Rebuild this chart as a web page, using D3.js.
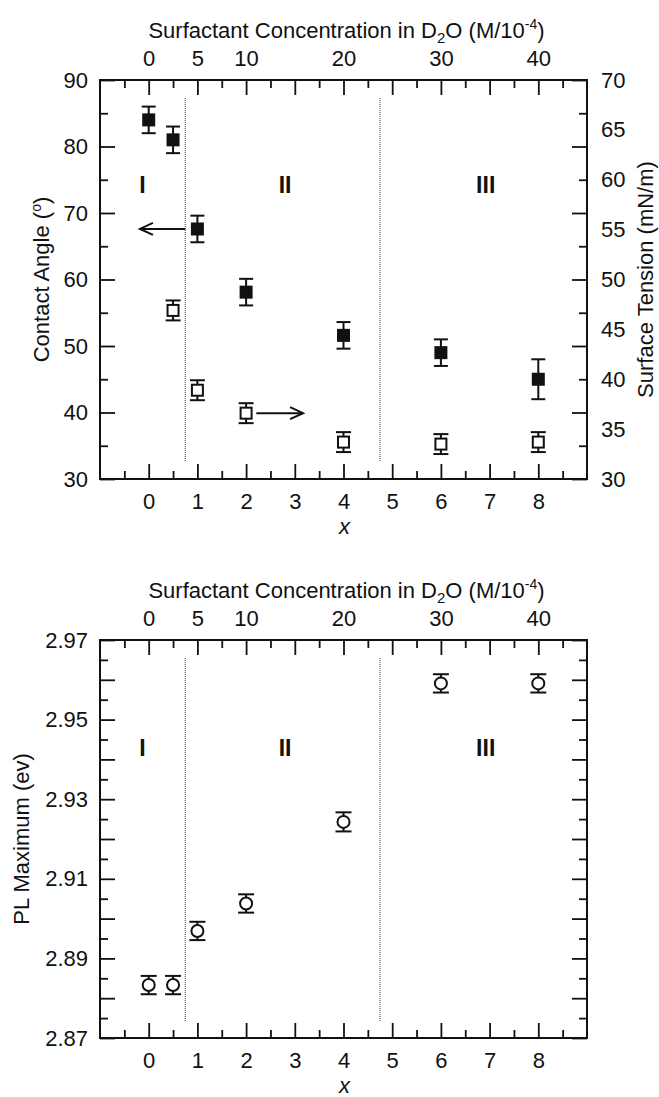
<!DOCTYPE html>
<html>
<head>
<meta charset="utf-8">
<script src="https://cdn.jsdelivr.net/npm/d3@7/dist/d3.min.js"></script>
<style>
  html, body { margin: 0; padding: 0; background: #fff; }
  svg { display: block; }
  text { font-family: "Liberation Sans", Arial, Helvetica, sans-serif; fill: #111; }
</style>
</head>
<body>
<svg id="chart" width="659" height="1097"></svg>
<script>
// ---------------- DATA ----------------
const xTicks = [0, 1, 2, 3, 4, 5, 6, 7, 8];
const topTickX = [0, 1, 2, 4, 6, 8];
const topTickLabels = ["0", "5", "10", "20", "30", "40"];

const caX = [0, 0.5, 1, 2, 4, 6, 8];
const contactAngle = [84.0, 81.0, 67.6, 58.1, 51.6, 49.0, 45.0];
const contactAngleErr = [2, 2, 2, 2, 2, 2, 3];

const stX = [0.5, 1, 2, 4, 6, 8];
const surfaceTension = [46.9, 38.9, 36.6, 33.7, 33.5, 33.7];
const surfaceTensionErr = [1, 1, 1, 1, 1, 1];

const plX = [0, 0.5, 1, 2, 4, 6, 8];
const plMaximum = [2.8833, 2.8833, 2.8969, 2.9038, 2.9243, 2.9591, 2.9591];
const plErr = [0.0023, 0.0023, 0.0023, 0.0023, 0.0024, 0.0023, 0.0023];

const caTicks = [30, 40, 50, 60, 70, 80, 90];
const stTicks = [30, 35, 40, 45, 50, 55, 60, 65, 70];
const plTickLabels = [2.87, 2.89, 2.91, 2.93, 2.95, 2.97];

const regionNames = ["I", "II", "III"];
const regionX = [-0.13, 2.8, 6.92];
const boundaries = [0.75, 4.75];

// ---------------- LAYOUT ----------------
const svg = d3.select("#chart");
const FONT = 22;
const X0 = 100, X1 = 587;
const x = d3.scaleLinear().domain([-1, 9]).range([X0, X1]);

const P1 = {top: 80, bottom: 479};
const P2 = {top: 640, bottom: 1038};

const yCA = d3.scaleLinear().domain([30, 90]).range([P1.bottom, P1.top]);
const yST = d3.scaleLinear().domain([30, 70]).range([P1.bottom, P1.top]);
const yPL = d3.scaleLinear().domain([2.87, 2.97]).range([P2.bottom, P2.top]);

const MAJ = 15, MIN = 8, SW = 1.8;

function styleAxis(g) {
  g.select(".domain").remove();
  g.selectAll(".tick line").attr("stroke", "#111").attr("stroke-width", SW);
  g.selectAll(".tick text").attr("font-size", FONT).attr("fill", "#111")
    .attr("font-family", '"Liberation Sans", Arial, sans-serif');
}

function titleTop(y) {
  const t = svg.append("text").attr("x", (X0 + X1) / 2 + 3).attr("y", y)
    .attr("text-anchor", "middle").attr("font-size", FONT);
  t.append("tspan").text("Surfactant Concentration in D");
  t.append("tspan").attr("font-size", 15).attr("dy", 5).text("2");
  t.append("tspan").attr("dy", -5).text("O (M/10");
  t.append("tspan").attr("font-size", 14).attr("dy", -9).text("-4");
  t.append("tspan").attr("dy", 9).text(")");
}

function frame(P, yScale, majors, minors) {
  const minorX = d3.range(-0.5, 9, 1);
  // bottom
  svg.append("g").attr("transform", `translate(0,${P.bottom})`)
    .call(d3.axisBottom(x).tickValues(xTicks).tickSize(-MAJ).tickPadding(14).tickFormat(d3.format("d")))
    .call(styleAxis);
  svg.append("g").attr("transform", `translate(0,${P.bottom})`)
    .call(d3.axisBottom(x).tickValues(minorX).tickSize(-MIN).tickFormat(""))
    .call(styleAxis);
  // top
  svg.append("g").attr("transform", `translate(0,${P.top})`)
    .call(d3.axisTop(x).tickValues(xTicks).tickSize(-MAJ).tickPadding(14)
      .tickFormat(d => { const i = topTickX.indexOf(d); return i >= 0 ? topTickLabels[i] : ""; }))
    .call(styleAxis);
  svg.append("g").attr("transform", `translate(0,${P.top})`)
    .call(d3.axisTop(x).tickValues(minorX).tickSize(-MIN).tickFormat(""))
    .call(styleAxis);
  // left & right tick marks
  svg.append("g").attr("transform", `translate(${X0},0)`)
    .call(d3.axisLeft(yScale).tickValues(majors).tickSize(-MAJ).tickFormat(""))
    .call(styleAxis);
  svg.append("g").attr("transform", `translate(${X0},0)`)
    .call(d3.axisLeft(yScale).tickValues(minors).tickSize(-MIN).tickFormat(""))
    .call(styleAxis);
  svg.append("g").attr("transform", `translate(${X1},0)`)
    .call(d3.axisRight(yScale).tickValues(majors).tickSize(-MAJ).tickFormat(""))
    .call(styleAxis);
  svg.append("g").attr("transform", `translate(${X1},0)`)
    .call(d3.axisRight(yScale).tickValues(minors).tickSize(-MIN).tickFormat(""))
    .call(styleAxis);
  // frame
  svg.append("rect").attr("x", X0).attr("y", P.top).attr("width", X1 - X0).attr("height", P.bottom - P.top)
    .attr("fill", "none").attr("stroke", "#111").attr("stroke-width", 2);
  // boundaries
  boundaries.forEach(b => {
    svg.append("line").attr("x1", x(b)).attr("x2", x(b))
      .attr("y1", P.top + 18).attr("y2", P.bottom - 17)
      .attr("stroke", "#333").attr("stroke-width", 1).attr("stroke-dasharray", "1,1");
  });
  // x label
  svg.append("text").attr("x", x(4) + 1).attr("y", P.bottom + 55).attr("text-anchor", "middle")
    .attr("font-size", FONT).attr("font-style", "italic").text("x");
}

function regions(yPos) {
  regionNames.forEach((r, i) => {
    svg.append("text").attr("x", x(regionX[i])).attr("y", yPos).attr("text-anchor", "middle")
      .attr("font-size", 23).attr("font-weight", "bold").text(r);
  });
}

function errorBars(xs, ys, errs, yScale, cap) {
  const g = svg.append("g").attr("stroke", "#111").attr("stroke-width", 2);
  xs.forEach((xv, i) => {
    const cx = x(xv), yt = yScale(ys[i] + errs[i]), yb = yScale(ys[i] - errs[i]);
    g.append("line").attr("x1", cx).attr("x2", cx).attr("y1", yt).attr("y2", yb);
    g.append("line").attr("x1", cx - cap).attr("x2", cx + cap).attr("y1", yt).attr("y2", yt);
    g.append("line").attr("x1", cx - cap).attr("x2", cx + cap).attr("y1", yb).attr("y2", yb);
  });
}

function arrow(xFrom, xTo, yPix) {
  const g = svg.append("g").attr("stroke", "#111").attr("stroke-width", 2).attr("fill", "none");
  const a = x(xFrom), b = x(xTo);
  const dir = Math.sign(b - a);
  g.append("line").attr("x1", a).attr("x2", b).attr("y1", yPix).attr("y2", yPix);
  g.append("path").attr("d", `M${b - dir * 13},${yPix - 6} L${b},${yPix} L${b - dir * 13},${yPix + 6}`)
    .attr("stroke-linejoin", "miter");
}

// ---------------- PANEL 1 ----------------
titleTop(38);
frame(P1, yCA, caTicks, [35, 45, 55, 65, 75, 85]);

// left labels
svg.append("g").attr("transform", `translate(${X0},0)`)
  .call(d3.axisLeft(yCA).tickValues(caTicks).tickSize(0).tickPadding(12).tickFormat(d3.format("d")))
  .call(styleAxis);
// right labels
svg.append("g").attr("transform", `translate(${X1},0)`)
  .call(d3.axisRight(yST).tickValues(stTicks).tickSize(0).tickPadding(14).tickFormat(d3.format("d")))
  .call(styleAxis);

// axis titles
{
  const t = svg.append("text").attr("transform", `translate(49,${(P1.top + P1.bottom) / 2}) rotate(-90)`)
    .attr("text-anchor", "middle").attr("font-size", FONT);
  t.append("tspan").text("Contact Angle (");
  t.append("tspan").attr("font-size", 14).attr("dy", -8).text("o");
  t.append("tspan").attr("dy", 8).text(")");
  svg.append("text").attr("transform", `translate(653,${(P1.top + P1.bottom) / 2}) rotate(-90)`)
    .attr("text-anchor", "middle").attr("font-size", FONT).text("Surface Tension (mN/m)");
}
regions(yCA(74.2) + 8);

// arrows
arrow(0.75, -0.18, yCA(contactAngle[2]));
arrow(2.21, 3.17, yST(surfaceTension[2]));

// contact angle (filled squares)
errorBars(caX, contactAngle, contactAngleErr, yCA, 7);
svg.append("g").selectAll("rect").data(caX).join("rect")
  .attr("x", (d) => x(d) - 6.5).attr("y", (d, i) => yCA(contactAngle[i]) - 6.5)
  .attr("width", 13).attr("height", 13).attr("fill", "#111");

// surface tension (open squares)
errorBars(stX, surfaceTension, surfaceTensionErr, yST, 7.5);
svg.append("g").selectAll("rect").data(stX).join("rect")
  .attr("x", (d) => x(d) - 5.5).attr("y", (d, i) => yST(surfaceTension[i]) - 5.5)
  .attr("width", 11).attr("height", 11).attr("fill", "#fff").attr("stroke", "#111").attr("stroke-width", 2);

// ---------------- PANEL 2 ----------------
titleTop(P2.top - 42);
const plMajors = d3.range(0, 11).map(i => +(2.87 + i * 0.01).toFixed(3));
const plMinors = d3.range(0, 10).map(i => +(2.875 + i * 0.01).toFixed(3));
frame(P2, yPL, plMajors, plMinors);
svg.append("g").attr("transform", `translate(${X0},0)`)
  .call(d3.axisLeft(yPL).tickValues(plTickLabels).tickSize(0).tickPadding(12).tickFormat(d3.format(".2f")))
  .call(styleAxis);
svg.append("text").attr("transform", `translate(29,${(P2.top + P2.bottom) / 2}) rotate(-90)`)
  .attr("text-anchor", "middle").attr("font-size", FONT).text("PL Maximum (ev)");
regions(yPL(2.9429) + 8);

errorBars(plX, plMaximum, plErr, yPL, 8);
svg.append("g").selectAll("circle").data(plX).join("circle")
  .attr("cx", d => x(d)).attr("cy", (d, i) => yPL(plMaximum[i])).attr("r", 6)
  .attr("fill", "#fff").attr("stroke", "#111").attr("stroke-width", 2);
</script>
</body>
</html>
